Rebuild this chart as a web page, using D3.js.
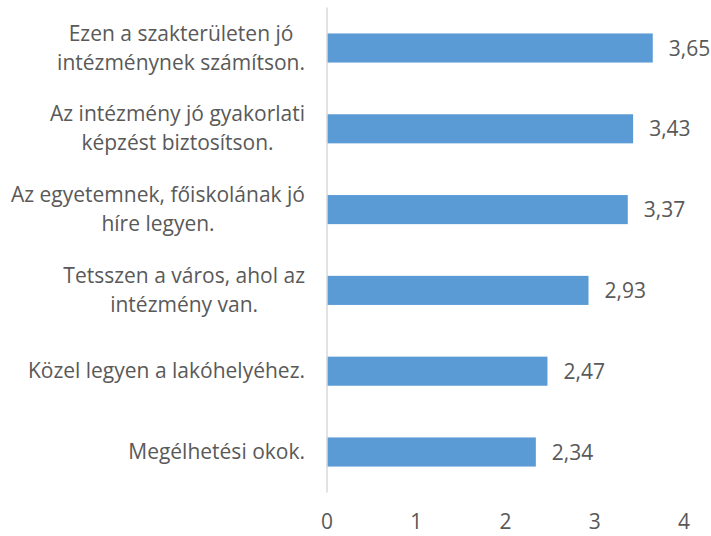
<!DOCTYPE html>
<html>
<head>
<meta charset="utf-8">
<script src="https://cdn.jsdelivr.net/npm/d3@7"></script>
<style>
  body { margin: 0; background: #fff; }
  text { font-family: "Open Sans", sans-serif; fill: #595959; }
</style>
</head>
<body>
<div id="chart"></div>
<script>
// category labels, already split into lines as in the picture
const labels = [
    ["Ezen a szakterületen jó", "intézménynek számítson."],
    ["Az intézmény jó gyakorlati", "képzést biztosítson."],
    ["Az egyetemnek, főiskolának jó", "híre legyen."],
    ["Tetsszen a város, ahol az", "intézmény van."],
    ["Közel legyen a lakóhelyéhez."],
    ["Megélhetési okok."]
];
const values = [3.65, 3.43, 3.37, 2.93, 2.47, 2.34];
const ticks = [0, 1, 2, 3, 4];

const width = 711,
    height = 536,
    fontSize = 21,
    lineHeight = 29;

const x = d3.scaleLinear().domain([0, 4]).range([327, 684]);
const y = d3.scaleBand()
    .domain(d3.range(values.length))
    .range([7.6, 492.4])
    .paddingInner(0.64)
    .paddingOuter(0.32);

const fmt = v => d3.format(".2f")(v).replace(".", ",");

const svg = d3.select("#chart")
    .append("svg")
    .attr("width", width)
    .attr("height", height);

// bars
svg.append("g")
    .selectAll("rect")
    .data(values)
    .join("rect")
    .attr("x", x(0))
    .attr("y", (d, i) => y(i))
    .attr("width", d => x(d) - x(0))
    .attr("height", y.bandwidth())
    .attr("fill", "#5b9bd5");

// vertical axis line
svg.append("line")
    .attr("x1", x(0)).attr("x2", x(0))
    .attr("y1", y.range()[0]).attr("y2", y.range()[1])
    .attr("stroke", "#d9d9d9")
    .attr("stroke-width", 1.5);

// value labels
svg.append("g")
    .attr("font-size", fontSize)
    .selectAll("text")
    .data(values)
    .join("text")
    .attr("x", d => x(d) + 16)
    .attr("y", (d, i) => y(i) + y.bandwidth() / 2)
    .attr("dy", "0.36em")
    .text(fmt);

// x tick labels
svg.append("g")
    .attr("font-size", fontSize)
    .attr("text-anchor", "middle")
    .selectAll("text")
    .data(ticks)
    .join("text")
    .attr("x", d => x(d))
    .attr("y", 521)
    .attr("dy", "0.36em")
    .text(d => d);

// category labels: lines centred on each other, block right-aligned
const labelRight = 305;
const cat = svg.append("g")
    .attr("font-size", fontSize)
    .attr("text-anchor", "middle")
    .selectAll("text")
    .data(labels)
    .join("text")
    .attr("y", (d, i) => y(i) + y.bandwidth() / 2);

cat.selectAll("tspan")
    .data(d => d.map((t, k) => ({ t, k, n: d.length })))
    .join("tspan")
    .attr("dy", d => d.k === 0 ? (-(d.n - 1) / 2 * lineHeight + 7) : lineHeight)
    .text(d => d.t);

cat.each(function () {
    const spans = d3.select(this).selectAll("tspan");
    let maxW = 0;
    spans.each(function () { maxW = Math.max(maxW, this.getComputedTextLength()); });
    spans.attr("x", labelRight - maxW / 2);
});
</script>
</body>
</html>
